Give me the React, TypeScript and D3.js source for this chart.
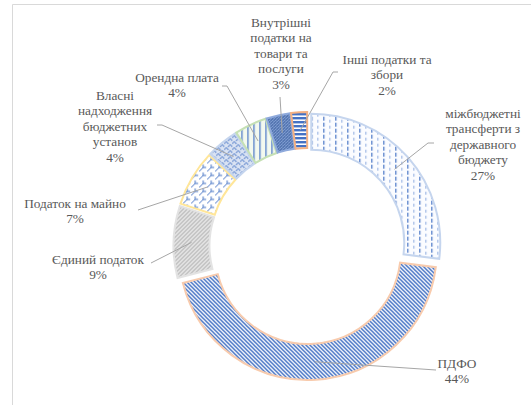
import React from "react";
import * as d3 from "d3";

// data
const categories = [
  "міжбюджетні трансферти з державного бюджету",
  "ПДФО",
  "Єдиний податок",
  "Податок на майно",
  "Власні надходження бюджетних установ",
  "Орендна плата",
  "Внутрішні податки на товари та послуги",
  "Інші податки та збори",
];
const values = [27, 44, 9, 7, 4, 4, 3, 2];
const labelLines = [
  ["міжбюджетні", "трансферти з", "державного", "бюджету"],
  ["ПДФО"],
  ["Єдиний податок"],
  ["Податок на майно"],
  ["Власні", "надходження", "бюджетних", "установ"],
  ["Орендна плата"],
  ["Внутрішні", "податки на", "товари та", "послуги"],
  ["Інші податки та", "збори"],
];

// layout of the labels (x centre, first line centre) and leader bends
const labelPos: [number, number][] = [
  [483, 113],
  [457, 363],
  [98, 259],
  [75, 203],
  [115, 95],
  [177, 77],
  [281, 22],
  [387, 59],
];
const leaderEnds: [number, number][][] = [
  [[428, 143], [434, 143]],
  [[436, 370]],
  [[151, 263]],
  [[138, 210]],
  [[162, 125], [157, 125]],
  [[227, 86], [222, 86]],
  [[280, 97]],
  [[333, 72], [338, 72]],
];

const fills = ["p0", "p1", "p2", "p3", "p4", "p5", "p6", "p7"];
const borders = ["#c5d5ee", "#f8cbad", "#e3e3e3", "#ffe699", "#c5d5ee", "#c5e0b4", "#8faadc", "#f4b183"];

const W = 531;
const H = 405;
const cx = 307.5;
const cy = 246;
const R = 129;
const r0 = 93;
const explode = 5;
const blue = "#4472c4";

export default function App() {
  const pie = d3.pie<number>().sort(null).value((d) => d);
  const arcs = pie(values);
  const arc = d3.arc<d3.PieArcDatum<number>>().innerRadius(r0).outerRadius(R);
  const lineH = 15.5;

  return (
    <svg width={W} height={H} style={{ position: "absolute", left: 0, top: 0, background: "#fff" }}>
      <defs>
        <pattern id="p0" width="12" height="6" patternUnits="userSpaceOnUse">
          <rect width="12" height="6" fill="#fbfcff" />
          <rect x="0" y="0" width="1.2" height="4" fill={blue} />
          <rect x="6" y="3" width="1.2" height="3" fill="#9db7e4" />
        </pattern>
        <pattern id="p1" width="4" height="4" patternUnits="userSpaceOnUse">
          <rect width="4" height="4" fill="#fff" />
          <path d="M-1,-1 L5,5 M-1,3 L1,5 M3,-1 L5,1" stroke={blue} strokeWidth="1.5" />
        </pattern>
        <pattern id="p2" width="4" height="4" patternUnits="userSpaceOnUse">
          <rect width="4" height="4" fill="#e2e2e2" />
          <path d="M-1,5 L5,-1 M-1,1 L1,-1 M3,5 L5,3" stroke="#a6a6a6" strokeWidth="1" />
        </pattern>
        <pattern id="p3" width="8" height="8" patternUnits="userSpaceOnUse">
          <rect width="8" height="8" fill="#fff" />
          <path d="M0,8 L4,4 L7,4 M4,4 L4,1" stroke={blue} strokeWidth="1" fill="none" />
        </pattern>
        <pattern id="p4" width="8" height="6" patternUnits="userSpaceOnUse">
          <rect width="8" height="6" fill="#dae3f3" />
          <path d="M0,4 C1,1 3,1 4,4 M4,1 C5,-2 7,-2 8,1 M4,7 C5,4 7,4 8,7" stroke={blue} strokeWidth="1" fill="none" />
        </pattern>
        <pattern id="p5" width="6" height="6" patternUnits="userSpaceOnUse">
          <rect width="6" height="6" fill="#f3f9ef" />
          <rect x="2" y="0" width="1.2" height="6" fill={blue} />
        </pattern>
        <pattern id="p6" width="3" height="3" patternUnits="userSpaceOnUse">
          <rect width="3" height="3" fill="#8faadc" />
          <path d="M-1,4 L4,-1" stroke="#2f5597" strokeWidth="1.1" />
        </pattern>
        <pattern id="p7" width="4" height="4" patternUnits="userSpaceOnUse">
          <rect width="4" height="4" fill="#fff" />
          <rect x="0" y="0" width="4" height="2.4" fill={blue} />
        </pattern>
      </defs>

      <line x1={12.5} y1={4.5} x2={W} y2={4.5} stroke="#d9d9d9" />
      <line x1={12.5} y1={4.5} x2={12.5} y2={H} stroke="#d9d9d9" />

      {arcs.map((a, i) => {
        const mid = (a.startAngle + a.endAngle) / 2;
        const dx = Math.sin(mid) * explode;
        const dy = -Math.cos(mid) * explode;
        return (
          <path
            key={categories[i]}
            d={arc(a) || ""}
            transform={`translate(${cx + dx},${cy + dy})`}
            fill={`url(#${fills[i]})`}
            stroke={borders[i]}
            strokeWidth={2}
          />
        );
      })}

      {arcs.map((a, i) => {
        const mid = (a.startAngle + a.endAngle) / 2;
        const rr = (R + r0) / 2 + explode;
        const p: [number, number] = [cx + Math.sin(mid) * rr, cy - Math.cos(mid) * rr];
        const pts = [p, ...leaderEnds[i]];
        return (
          <path
            key={"l" + i}
            d={d3.line()(pts) || ""}
            fill="none"
            stroke="#a6a6a6"
            strokeWidth={1}
          />
        );
      })}

      {labelLines.map((lines, i) => {
        const [x, y] = labelPos[i];
        const all = [...lines, `${values[i]}%`];
        return (
          <text
            key={"t" + i}
            textAnchor="middle"
            fontFamily="Times New Roman, Liberation Serif, serif"
            fontSize={13.3}
            fill="#595959"
          >
            {all.map((s, j) => (
              <tspan key={j} x={x} y={y + j * lineH + 4.5}>
                {s}
              </tspan>
            ))}
          </text>
        );
      })}
    </svg>
  );
}
